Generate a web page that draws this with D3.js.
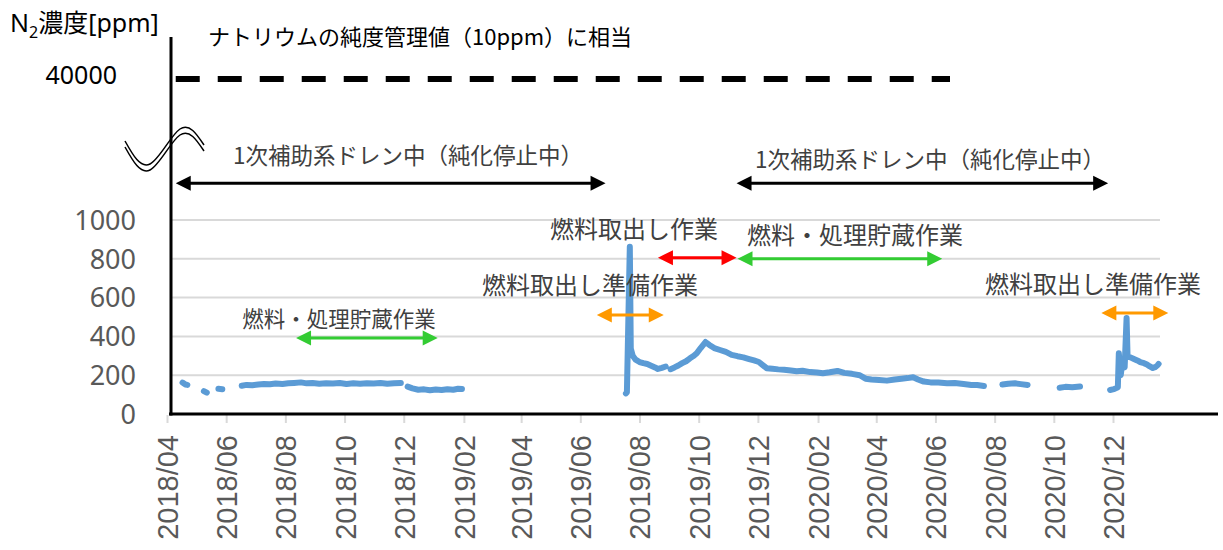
<!DOCTYPE html>
<html lang="ja">
<head>
<meta charset="utf-8">
<title>N2濃度</title>
<style>
  body { margin: 0; background: #fff; }
  .tick-x text { font-family: "Liberation Sans", Arial, sans-serif; font-size: 29px; fill: #595959; }
  .tick-y { font-family: "Noto Sans", "Noto Sans CJK JP", sans-serif; font-size: 27px; fill: #595959; }
  .note { font-family: "Noto Sans CJK JP", sans-serif; fill: #404040; }
</style>
</head>
<body>
<div id="chart"></div>
<script src="https://d3js.org/d3.v7.min.js"></script>
<script>
(function(d3) {
  'use strict';

  // --- data ---------------------------------------------------------------
  var yTicks = [0, 200, 400, 600, 800, 1000];
  var xTickDates = ['2018-04-01','2018-06-01','2018-08-01','2018-10-01','2018-12-01',
                    '2019-02-01','2019-04-01','2019-06-01','2019-08-01','2019-10-01',
                    '2019-12-01','2020-02-01','2020-04-01','2020-06-01','2020-08-01',
                    '2020-10-01','2020-12-01'];

  // daily N2 readings, null = no measurement (gap)
  var readings = [
    ['2018-04-17',162],['2018-04-20',152],['2018-04-22',150], null,
    ['2018-05-09',118],['2018-05-12',110], null,
    ['2018-05-24',130],['2018-05-28',128], null,
    ['2018-06-17',146],['2018-06-22',150],['2018-06-28',148],['2018-07-04',152],['2018-07-10',155],
    ['2018-07-16',153],['2018-07-22',157],['2018-07-29',155],['2018-08-04',158],['2018-08-10',160],
    ['2018-08-17',163],['2018-08-23',158],['2018-08-29',160],['2018-09-05',156],['2018-09-12',159],
    ['2018-09-19',157],['2018-09-26',160],['2018-10-03',155],['2018-10-10',158],['2018-10-17',156],
    ['2018-10-24',159],['2018-10-31',157],['2018-11-07',160],['2018-11-14',156],['2018-11-21',159],
    ['2018-11-28',160], null,
    ['2018-12-05',141],['2018-12-10',132],['2018-12-16',125],['2018-12-22',127],['2018-12-28',122],
    ['2019-01-03',126],['2019-01-09',124],['2019-01-15',128],['2019-01-21',125],['2019-01-26',130],
    ['2019-01-30',129], null,
    ['2019-07-18',106],['2019-07-19',112],['2019-07-22',862],['2019-07-23',337],['2019-07-25',300],
    ['2019-07-28',280],['2019-08-01',268],['2019-08-05',262],['2019-08-09',258],['2019-08-13',249],
    ['2019-08-17',240],['2019-08-20',232],['2019-08-24',238],['2019-08-28',245], null,
    ['2019-09-02',231],['2019-09-06',240],['2019-09-10',250],['2019-09-14',262],['2019-09-18',272],
    ['2019-09-22',287],['2019-09-26',300],['2019-09-29',313],['2019-10-03',340],['2019-10-08',371],
    ['2019-10-12',356],['2019-10-17',340],['2019-10-23',330],['2019-10-29',320],['2019-11-04',305],
    ['2019-11-10',298],['2019-11-16',292],['2019-11-22',283],['2019-11-27',276],['2019-12-02',268],
    ['2019-12-06',252],['2019-12-10',236],['2019-12-16',233],['2019-12-22',230],['2019-12-28',228],
    ['2020-01-04',224],['2020-01-10',220],['2020-01-16',223],['2020-01-24',216],['2020-01-31',214],
    ['2020-02-06',210],['2020-02-13',215],['2020-02-21',222],['2020-02-28',212],['2020-03-07',207],
    ['2020-03-15',200],['2020-03-21',182],['2020-03-27',178],['2020-04-04',175],['2020-04-12',172],
    ['2020-04-20',178],['2020-04-27',182],['2020-05-03',185],['2020-05-09',189],['2020-05-14',178],
    ['2020-05-20',167],['2020-05-27',163],['2020-06-04',162],['2020-06-13',158],['2020-06-21',160],
    ['2020-06-30',155],['2020-07-08',150],['2020-07-14',149],['2020-07-21',144], null,
    ['2020-08-09',152],['2020-08-15',156],['2020-08-22',158],['2020-08-28',154],['2020-09-04',150], null,
    ['2020-10-07',135],['2020-10-13',140],['2020-10-20',138],['2020-10-28',142], null,
    ['2020-11-28',124],['2020-12-02',128],['2020-12-06',138],['2020-12-07',313],['2020-12-09',200],
    ['2020-12-11',285],['2020-12-13',240],['2020-12-15',495],['2020-12-16',296],['2020-12-19',292],
    ['2020-12-22',285],['2020-12-26',276],['2020-12-29',268],['2021-01-02',262],['2021-01-05',255],
    ['2021-01-08',245],['2021-01-11',237],['2021-01-14',243],['2021-01-16',252],['2021-01-17',258]
  ];

  // work periods: [start, end, level (ppm axis units), colour]
  var periods = [
    ['2018-04-10','2019-06-27',1190,'#000000'],
    ['2019-11-09','2020-11-26',1190,'#000000'],
    ['2018-08-12','2019-01-05',392,'#33cc33'],
    ['2019-06-18','2019-08-26',510,'#ff9900'],
    ['2019-08-20','2019-11-09',806,'#ff0000'],
    ['2019-11-10','2020-06-08',800,'#33cc33'],
    ['2020-11-19','2021-01-27',520,'#ff9900']
  ];
  var limitLine = ['2018-04-10','2020-06-16'];   // 40000 ppm reference

  var labels = [
    ['1次補助系ドレン中（純化停止中）', 408, 156, 22.5],
    ['1次補助系ドレン中（純化停止中）', 930, 160, 22.5],
    ['燃料・処理貯蔵作業', 339, 319, 21.5],
    ['燃料取出し準備作業', 590, 286, 24],
    ['燃料取出し作業', 634, 230, 24],
    ['燃料・処理貯蔵作業', 855, 236, 24],
    ['燃料取出し準備作業', 1093, 285, 24]
  ];

  // --- layout -------------------------------------------------------------
  var width = 1223, height = 550;
  var axisX = 171, plotRight = 1160, axisEnd = 1218;
  var parse = d3.timeParse('%Y-%m-%d');

  var x = d3.scaleTime()
    .domain([parse('2018-04-01'), parse('2020-12-01')])
    .range([167, 1113]);
  var y = d3.scaleLinear().domain([0, 1000]).range([414, 220]);

  var svg = d3.select('#chart').append('svg')
    .attr('width', width).attr('height', height);

  // gridlines
  svg.append('g').selectAll('line')
    .data(yTicks.slice(1))
    .enter().append('line')
    .attr('x1', axisX).attr('x2', plotRight)
    .attr('y1', function(d) { return y(d); })
    .attr('y2', function(d) { return y(d); })
    .attr('stroke', '#d9d9d9').attr('stroke-width', 2);

  // y tick labels
  svg.append('g').selectAll('text')
    .data(yTicks)
    .enter().append('text')
    .attr('class', 'tick-y')
    .attr('x', 136)
    .attr('y', function(d) { return y(d); })
    .attr('dy', '0.36em')
    .attr('text-anchor', 'end')
    .text(function(d) { return d; });

  // x axis (ticks + rotated labels)
  var xAxis = d3.axisBottom(x)
    .tickValues(xTickDates.map(parse))
    .tickFormat(d3.timeFormat('%Y/%m'))
    .tickSize(8).tickPadding(0);
  var gx = svg.append('g').attr('class', 'tick-x')
    .attr('transform', 'translate(0,415)')
    .call(xAxis);
  gx.select('.domain').remove();
  gx.selectAll('line').attr('stroke', '#d9d9d9').attr('stroke-width', 2);
  gx.selectAll('text')
    .attr('transform', 'rotate(-90)')
    .attr('x', -20).attr('y', 0)
    .attr('dy', '0.36em')
    .attr('text-anchor', 'end');

  // axis lines
  svg.append('line').attr('x1', axisX).attr('x2', axisX).attr('y1', 37).attr('y2', 415.5)
    .attr('stroke', '#000').attr('stroke-width', 3);
  svg.append('line').attr('x1', axisX - 2).attr('x2', axisEnd).attr('y1', 414).attr('y2', 414)
    .attr('stroke', '#000').attr('stroke-width', 3);

  // axis break symbol
  var wave = d3.line().curve(d3.curveNatural);
  [0, 6].forEach(function(off) {
    svg.append('path')
      .attr('d', wave([[125, 141 + off], [150, 164 + off], [180, 129 + off], [204, 145 + off]]))
      .attr('fill', 'none').attr('stroke', '#000').attr('stroke-width', 1.5);
  });

  // upper segment: 40000 ppm
  svg.append('text')
    .attr('class', 'tick-y')
    .attr('x', 117).attr('y', 75).attr('dy', '0.36em')
    .attr('text-anchor', 'end')
    .style('fill', '#000').style('font-size', '25px')
    .text('40000');
  svg.append('line')
    .attr('x1', x(parse(limitLine[0]))).attr('x2', x(parse(limitLine[1])))
    .attr('y1', 79).attr('y2', 79)
    .attr('stroke', '#000').attr('stroke-width', 6)
    .attr('stroke-dasharray', '24,18');

  // title texts
  var t = svg.append('text')
    .attr('x', 10).attr('y', 32)
    .style('font-family', '"Noto Sans", "Noto Sans CJK JP", sans-serif')
    .style('font-size', '25px').style('fill', '#000');
  t.append('tspan').text('N');
  t.append('tspan').attr('dy', 6).style('font-size', '16px').text('2');
  t.append('tspan').attr('dy', -6).text('濃度[ppm]');

  svg.append('text')
    .attr('x', 208).attr('y', 45)
    .style('font-family', '"Noto Sans CJK JP", sans-serif')
    .style('font-size', '22px').style('fill', '#000')
    .text('ナトリウムの純度管理値（10ppm）に相当');

  // data line
  var line = d3.line()
    .defined(function(d) { return d !== null; })
    .x(function(d) { return x(parse(d[0])); })
    .y(function(d) { return y(d[1]); });
  svg.append('path')
    .datum(readings)
    .attr('d', line)
    .attr('fill', 'none')
    .attr('stroke', '#5b9bd5')
    .attr('stroke-width', 6)
    .attr('stroke-linejoin', 'round')
    .attr('stroke-linecap', 'round');

  // period arrows
  var head = 15, half = 7.5;
  var arrows = svg.append('g').selectAll('g')
    .data(periods)
    .enter().append('g');
  arrows.append('line')
    .attr('x1', function(d) { return x(parse(d[0])) + head - 2; })
    .attr('x2', function(d) { return x(parse(d[1])) - head + 2; })
    .attr('y1', function(d) { return y(d[2]); })
    .attr('y2', function(d) { return y(d[2]); })
    .attr('stroke', function(d) { return d[3]; })
    .attr('stroke-width', 3);
  arrows.append('path')
    .attr('fill', function(d) { return d[3]; })
    .attr('d', function(d) {
      var a = x(parse(d[0])), b = x(parse(d[1])), yy = y(d[2]);
      return 'M' + a + ',' + yy + 'L' + (a + head) + ',' + (yy - half) + 'L' + (a + head) + ',' + (yy + half) + 'Z' +
             'M' + b + ',' + yy + 'L' + (b - head) + ',' + (yy - half) + 'L' + (b - head) + ',' + (yy + half) + 'Z';
    });

  // annotation labels
  svg.append('g').selectAll('text')
    .data(labels)
    .enter().append('text')
    .attr('class', 'note')
    .attr('x', function(d) { return d[1]; })
    .attr('y', function(d) { return d[2]; })
    .attr('dy', '0.35em')
    .attr('text-anchor', 'middle')
    .style('font-size', function(d) { return d[3] + 'px'; })
    .text(function(d) { return d[0]; });

})(window.d3);
</script>
</body>
</html>
